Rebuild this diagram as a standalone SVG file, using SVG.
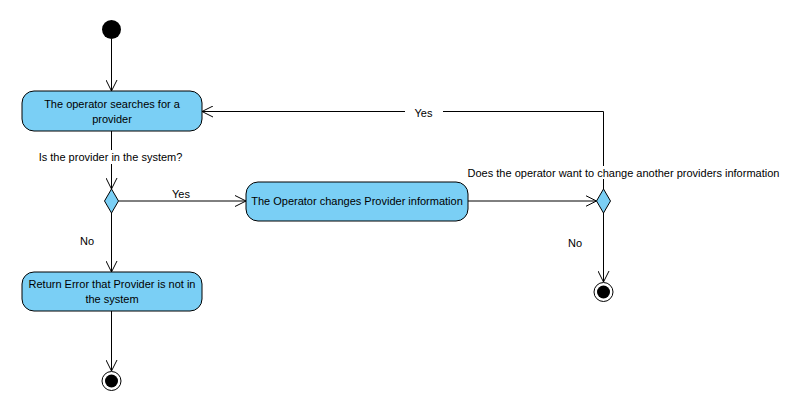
<svg xmlns="http://www.w3.org/2000/svg" width="802" height="403" viewBox="0 0 802 403">
<style>
.act{fill:#7acff5;stroke:#000;stroke-width:1}
.dec{fill:#7acff5;stroke:#000;stroke-width:1}
.t{font-family:"Liberation Sans",Arial,sans-serif;font-size:11px;fill:#000;text-anchor:middle;dominant-baseline:central}
.c{fill:none;stroke:#000;stroke-width:1}
.lb{fill:#fff}
</style>
<defs>
<marker id="arr" viewBox="0 0 12 12" refX="11" refY="6" markerWidth="12" markerHeight="12" markerUnits="userSpaceOnUse" orient="auto">
<path d="M0,0.5 L11,6 L0,11.5" fill="none" stroke="#000" stroke-width="1"/>
</marker>
</defs>
<rect width="802" height="403" fill="#fff"/>
<g id="connectors">
<line class="c" x1="111.5" y1="39" x2="111.5" y2="91" marker-end="url(#arr)"/>
<line class="c" x1="111.5" y1="131" x2="111.5" y2="189" marker-end="url(#arr)"/>
<line class="c" x1="118.5" y1="201" x2="246" y2="201" marker-end="url(#arr)"/>
<line class="c" x1="111.5" y1="213" x2="111.5" y2="272" marker-end="url(#arr)"/>
<line class="c" x1="111.5" y1="311" x2="111.5" y2="371" marker-end="url(#arr)"/>
<line class="c" x1="468" y1="201" x2="596.5" y2="201" marker-end="url(#arr)"/>
<polyline class="c" points="603.5,189 603.5,111.5 202,111.5" marker-end="url(#arr)"/>
<line class="c" x1="603.5" y1="213" x2="603.5" y2="282" marker-end="url(#arr)"/>
<rect class="lb" x="37" y="150" width="148" height="14"/>
<text class="t" x="110.5" y="157">Is the provider in the system?</text>
<text class="t" x="181" y="194">Yes</text>
<text class="t" x="87" y="241">No</text>
<rect class="lb" x="405" y="105" width="38" height="14"/>
<text class="t" x="423.5" y="113">Yes</text>
<rect class="lb" x="466" y="166" width="315" height="13"/>
<text class="t" x="623.5" y="173">Does the operator want to change another providers information</text>
<text class="t" x="575" y="243">No</text>
</g>
<g id="start">
<circle cx="111.5" cy="29.5" r="9.5" fill="#000"/>
</g>
<g id="search">
<rect class="act" x="22" y="91" width="180" height="40" rx="12" ry="12"/>
<text class="t" x="112" y="104">The operator searches for a</text>
<text class="t" x="112" y="119">provider</text>
</g>
<g id="decision1">
<polygon class="dec" points="111.5,189 118.5,201 111.5,213 104.5,201"/>
</g>
<g id="change">
<rect class="act" x="246" y="182" width="222" height="39" rx="12" ry="12"/>
<text class="t" x="357" y="201">The Operator changes Provider information</text>
</g>
<g id="decision2">
<polygon class="dec" points="603.5,189 610.5,201 603.5,213 596.5,201"/>
</g>
<g id="error">
<rect class="act" x="22" y="272" width="180" height="39" rx="12" ry="12"/>
<text class="t" x="112" y="284">Return Error that Provider is not in</text>
<text class="t" x="112" y="299">the system</text>
</g>
<g id="end1">
<circle cx="111.5" cy="381" r="9.5" fill="#fff" stroke="#000" stroke-width="1"/>
<circle cx="111.5" cy="381" r="6.5" fill="#000"/>
</g>
<g id="end2">
<circle cx="603.5" cy="292" r="9.5" fill="#fff" stroke="#000" stroke-width="1"/>
<circle cx="603.5" cy="292" r="6.5" fill="#000"/>
</g>
</svg>
